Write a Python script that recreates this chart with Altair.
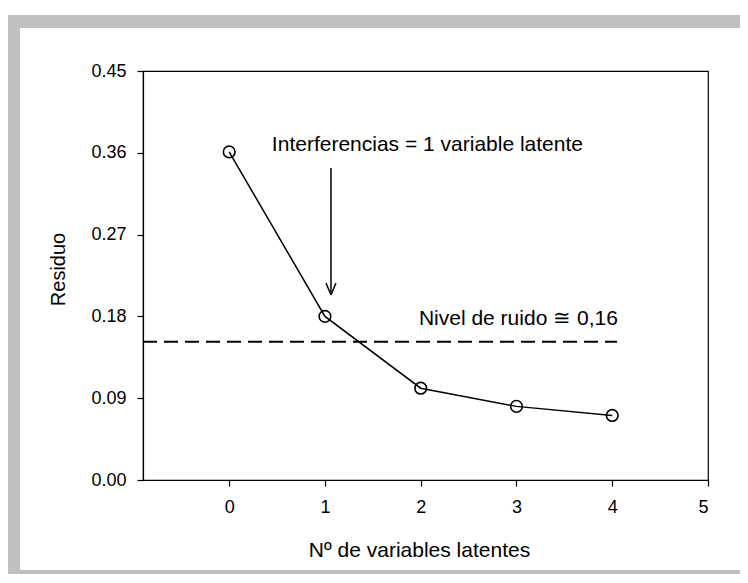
import altair as alt
import pandas as pd

# ---- data ----
n_lv = [0, 1, 2, 3, 4]
residuo = [0.361, 0.180, 0.101, 0.081, 0.071]

noise_level = 0.152
noise_x_start = -0.9
noise_x_end = 4.05

x_ticks = [0, 1, 2, 3, 4, 5]
y_ticks = [0.00, 0.09, 0.18, 0.27, 0.36, 0.45]

# arrow (shaft + two head arms) in data units
arrow_x = [1.063, 1.063, 1.063]
arrow_y = [0.3433, 0.2035, 0.2035]
arrow_x2 = [1.063, 1.011, 1.115]
arrow_y2 = [0.2035, 0.2167, 0.2167]

label_interf = "Interferencias = 1 variable latente"
label_interf_x = 2.07
label_interf_y = 0.362
label_noise = "Nivel de ruido \u2245 0,16"
label_noise_x = 3.02
label_noise_y = 0.171

FONT = "Liberation Sans"
GRAY = "#c0c0c0"
W, H = 565, 409

df = pd.DataFrame({"n": n_lv, "r": residuo})
noise_df = pd.DataFrame({"x0": [noise_x_start], "x1": [noise_x_end], "y": [noise_level]})
arrow_df = pd.DataFrame({"x": arrow_x, "y": arrow_y, "x2": arrow_x2, "y2": arrow_y2})
text_df = pd.DataFrame({
    "x": [label_interf_x, label_noise_x],
    "y": [label_interf_y, label_noise_y],
    "t": [label_interf, label_noise],
})
dummy = pd.DataFrame({"a": [0]})

x_scale = alt.Scale(domain=[-0.9, 5], nice=False, zero=False)
y_scale = alt.Scale(domain=[0, 0.45], nice=False, zero=False)

x_axis = alt.Axis(values=x_ticks, format="d", title="Nº de variables latentes",
                  labelPadding=12, titleX=276, titleY=76, titleAlign="center",
                  titleBaseline="alphabetic", titleFontSize=21)
y_axis = alt.Axis(values=y_ticks, format=".2f", title="Residuo",
                  labelPadding=11, titleX=-79, titleY=198, titleAlign="center",
                  titleBaseline="alphabetic", titleFontSize=20)

line = alt.Chart(df).mark_line(color="black", strokeWidth=1.5).encode(
    x=alt.X("n:Q", scale=x_scale, axis=x_axis),
    y=alt.Y("r:Q", scale=y_scale, axis=y_axis),
)
points = alt.Chart(df).mark_point(shape="circle", filled=False, size=135,
                                  color="black", strokeWidth=1.6, opacity=1).encode(
    x=alt.X("n:Q", scale=x_scale),
    y=alt.Y("r:Q", scale=y_scale),
)
noise = alt.Chart(noise_df).mark_rule(color="black", strokeWidth=2, strokeDash=[14, 7]).encode(
    x=alt.X("x0:Q", scale=x_scale),
    x2="x1:Q",
    y=alt.Y("y:Q", scale=y_scale),
)
arrow = alt.Chart(arrow_df).mark_rule(color="black", strokeWidth=1.5).encode(
    x=alt.X("x:Q", scale=x_scale),
    y=alt.Y("y:Q", scale=y_scale),
    x2="x2:Q",
    y2="y2:Q",
)
texts = alt.Chart(text_df).mark_text(font=FONT, fontSize=21, color="black",
                                     align="center", baseline="alphabetic").encode(
    x=alt.X("x:Q", scale=x_scale),
    y=alt.Y("y:Q", scale=y_scale),
    text="t:N",
)

# decorative grey frame around the figure (top, left, bottom bands)
band_top = alt.Chart(dummy).mark_rect(color=GRAY).encode(
    x=alt.value(-136), x2=alt.value(610), y=alt.value(-56), y2=alt.value(-43))
band_left = alt.Chart(dummy).mark_rect(color=GRAY).encode(
    x=alt.value(-136), x2=alt.value(-123), y=alt.value(-56), y2=alt.value(520))
band_bottom = alt.Chart(dummy).mark_rect(color=GRAY).encode(
    x=alt.value(-136), x2=alt.value(610), y=alt.value(499), y2=alt.value(520))

chart = alt.layer(
    band_top, band_left, band_bottom, noise, line, points, arrow, texts
).properties(
    width=W, height=H,
    autosize=alt.AutoSizeParams(type="none"),
    padding={"left": 135, "top": 63, "right": 32, "bottom": 94},
).configure_view(
    stroke="black", strokeWidth=1.2
).configure_axis(
    labelFont=FONT, titleFont=FONT, labelFontSize=18, labelColor="black",
    titleColor="black", titleFontWeight="normal", domainColor="black",
    tickColor="black", tickSize=6, grid=False, domainWidth=1.2, tickWidth=1.2,
)

chart.save("out.html", embed_options={"renderer": "svg", "actions": False})
